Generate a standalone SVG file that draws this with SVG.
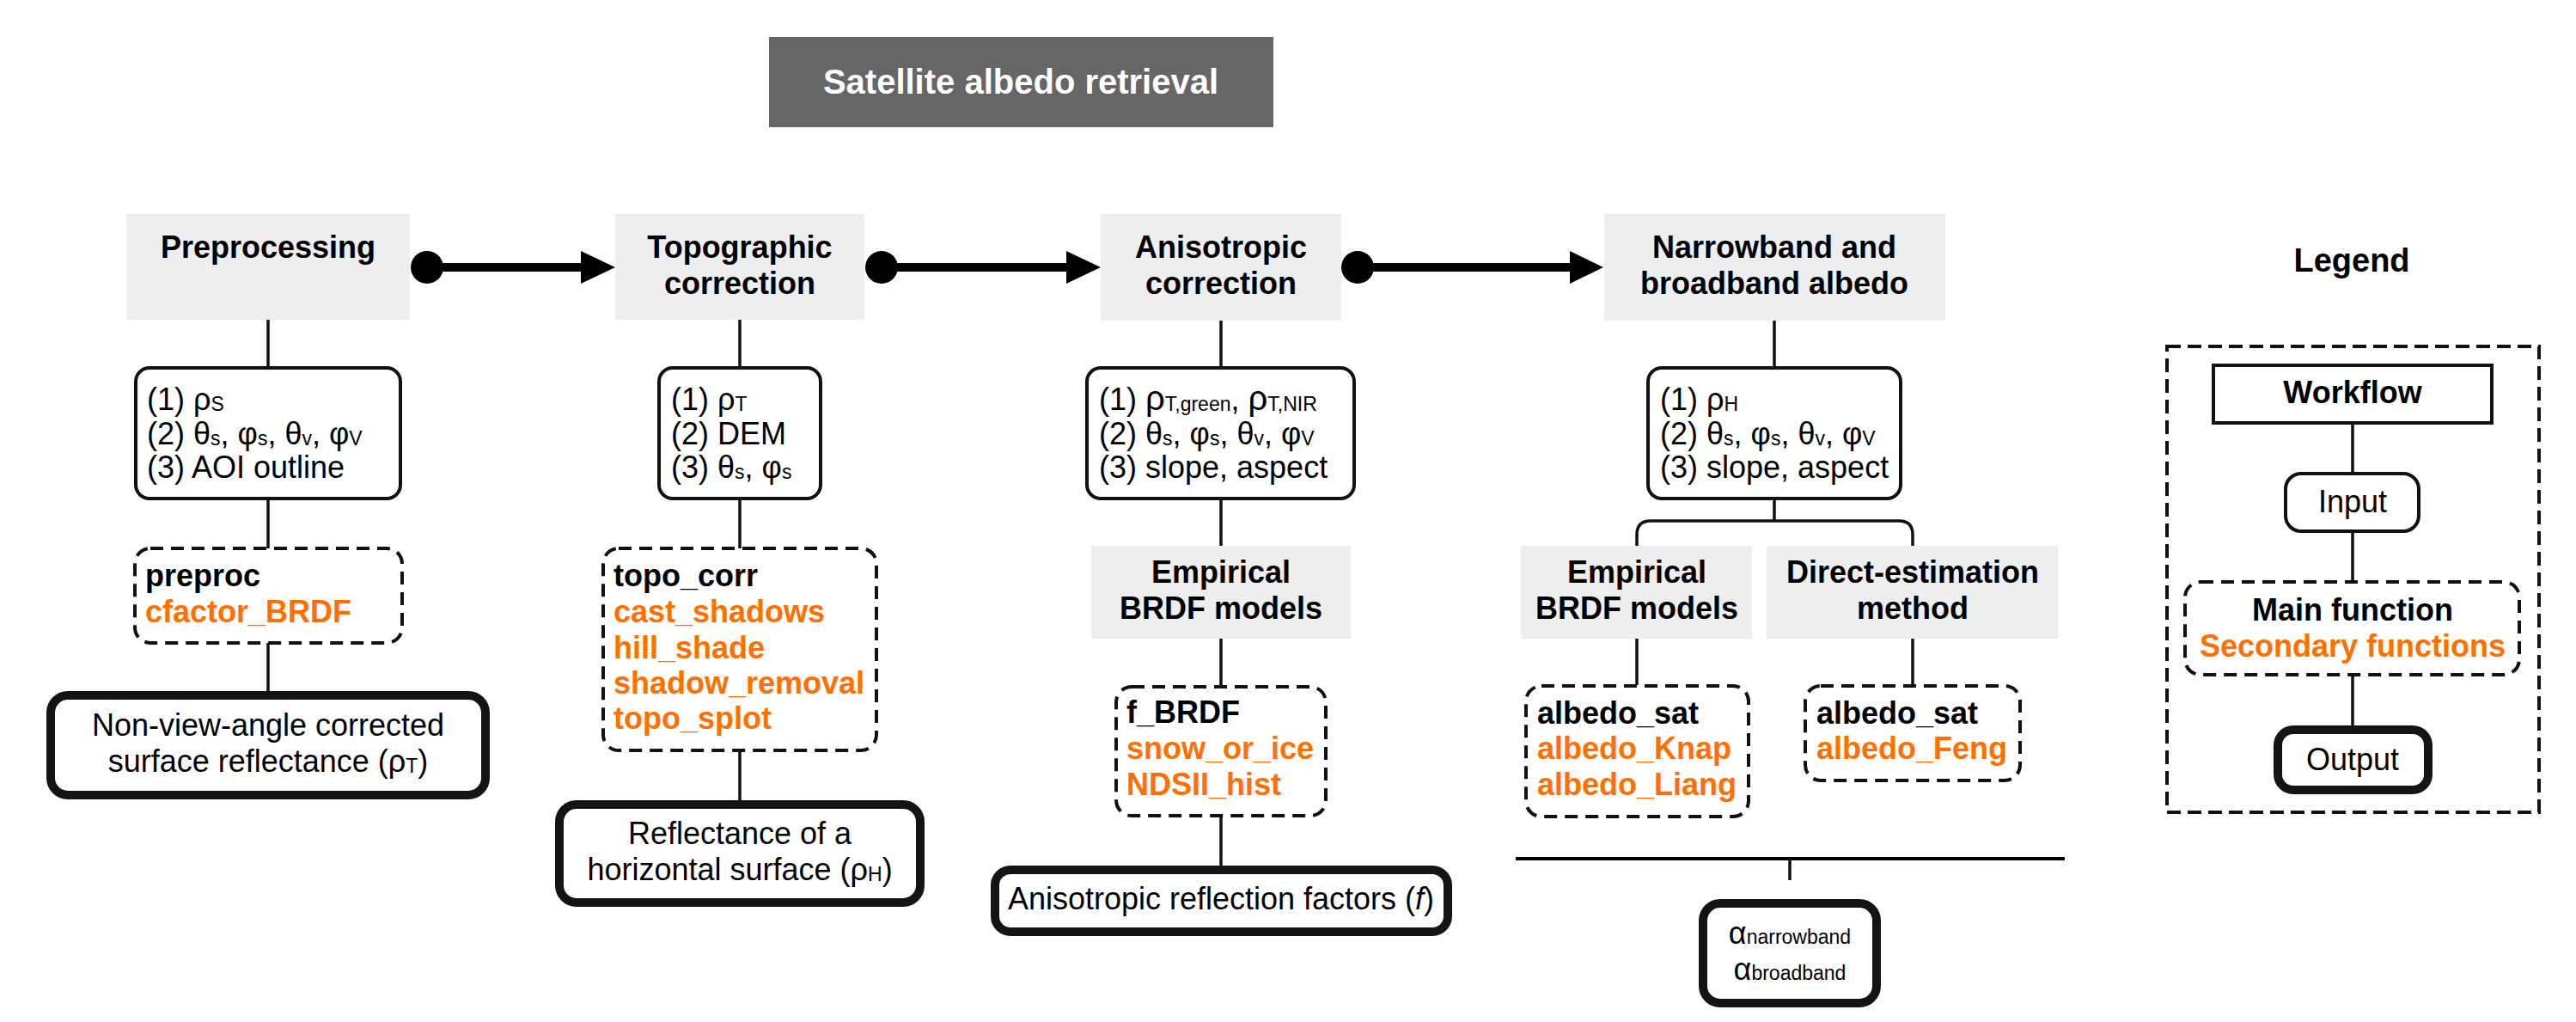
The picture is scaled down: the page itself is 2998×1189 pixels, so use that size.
<svg xmlns="http://www.w3.org/2000/svg" width="2998" height="1189" viewBox="0 0 2998 1189">
<style>
text{font-family:"Liberation Sans",Arial,Helvetica,sans-serif;fill:#000}
.hdr{fill:#eeeeee}
.ht{font-size:36px;font-weight:bold;text-anchor:middle}
.in{fill:#fff;stroke:#111;stroke-width:4}
.it{font-size:36px}
.sb{font-size:23px}
.fn{fill:#fff;stroke:#111;stroke-width:4;stroke-dasharray:15 9}
.fm{font-size:36px;font-weight:bold}
.or{fill:#ff7000}
.out{fill:#fff;stroke:#141414;stroke-width:10}
.ot{font-size:36px;text-anchor:middle}
.ln{stroke:#111;stroke-width:3.5;fill:none}
.flow{stroke:#000;stroke-width:10}
</style>
<rect width="2998" height="1189" fill="#fff"/>

<g id="connectors">
  <line class="ln" x1="312" y1="372" x2="312" y2="804"/>
  <line class="ln" x1="861" y1="372" x2="861" y2="931"/>
  <line class="ln" x1="1421" y1="373" x2="1421" y2="1007"/>
  <line class="ln" x1="2065" y1="373" x2="2065" y2="606"/>
  <path class="ln" stroke-width="4" d="M1905,635 V622 Q1905,606 1921,606 H2210 Q2226,606 2226,622 V635"/>
  <line class="ln" x1="1905" y1="743" x2="1905" y2="797"/>
  <line class="ln" x1="2226" y1="743" x2="2226" y2="797"/>
  <line x1="1764" y1="999" x2="2403" y2="999" stroke="#000" stroke-width="4"/>
  <line class="ln" x1="2083" y1="999" x2="2083" y2="1024"/>
  <line class="ln" x1="2738" y1="494" x2="2738" y2="844"/>
  <g id="flow1">
    <circle cx="497" cy="311" r="19"/>
    <line class="flow" x1="497" y1="311" x2="680" y2="311"/>
    <polygon points="676,292 716,311 676,330"/>
  </g>
  <g id="flow2">
    <circle cx="1026" cy="311" r="19"/>
    <line class="flow" x1="1026" y1="311" x2="1245" y2="311"/>
    <polygon points="1241,292 1281,311 1241,330"/>
  </g>
  <g id="flow3">
    <circle cx="1580" cy="311" r="19"/>
    <line class="flow" x1="1580" y1="311" x2="1830" y2="311"/>
    <polygon points="1827,292 1866,311 1827,330"/>
  </g>
</g>

<g id="title">
  <rect x="895" y="43" width="587" height="105" fill="#666666"/>
  <text x="1188" y="109" font-size="40" font-weight="bold" text-anchor="middle" style="fill:#fff">Satellite albedo retrieval</text>
</g>

<!-- Column 1 -->
<g id="preprocessing">
  <rect class="hdr" x="147" y="249" width="330" height="123"/>
  <text class="ht" x="312" y="300">Preprocessing</text>
</g>
<g id="preproc-input">
  <rect class="in" x="158" y="428" width="308" height="152" rx="16"/>
  <text class="it" x="171" y="477">(1) ρ<tspan class="sb" dy="1">S</tspan></text>
  <text class="it" x="171" y="517">(2) θ<tspan class="sb" dy="1">s</tspan><tspan dy="-1">, φ</tspan><tspan class="sb" dy="1">s</tspan><tspan dy="-1">, θ</tspan><tspan class="sb" dy="1">v</tspan><tspan dy="-1">, φ</tspan><tspan class="sb" dy="1">V</tspan></text>
  <text class="it" x="171" y="556">(3) AOI outline</text>
</g>
<g id="preproc-func">
  <rect class="fn" x="157" y="638" width="311" height="110" rx="18"/>
  <text class="fm" x="169" y="682">preproc</text>
  <text class="fm or" x="169" y="724">cfactor_BRDF</text>
</g>
<g id="preproc-output">
  <rect class="out" x="59" y="809" width="506" height="116" rx="20"/>
  <text class="ot" x="312" y="856">Non-view-angle corrected</text>
  <text class="ot" x="312" y="898">surface reflectance (ρ<tspan class="sb" dy="1">T</tspan><tspan dy="-1">)</tspan></text>
</g>

<!-- Column 2 -->
<g id="topographic">
  <rect class="hdr" x="716" y="249" width="290" height="123"/>
  <text class="ht" x="861" y="300">Topographic</text>
  <text class="ht" x="861" y="342">correction</text>
</g>
<g id="topo-input">
  <rect class="in" x="767" y="428" width="188" height="152" rx="16"/>
  <text class="it" x="781" y="477">(1) ρ<tspan class="sb" dy="1">T</tspan></text>
  <text class="it" x="781" y="517">(2) DEM</text>
  <text class="it" x="781" y="556">(3) θ<tspan class="sb" dy="1">s</tspan><tspan dy="-1">, φ</tspan><tspan class="sb" dy="1">s</tspan></text>
</g>
<g id="topo-func">
  <rect class="fn" x="702" y="638" width="318" height="235" rx="18"/>
  <text class="fm" x="714" y="682">topo_corr</text>
  <text class="fm or" x="714" y="724">cast_shadows</text>
  <text class="fm or" x="714" y="766">hill_shade</text>
  <text class="fm or" x="714" y="807">shadow_removal</text>
  <text class="fm or" x="714" y="848">topo_splot</text>
</g>
<g id="topo-output">
  <rect class="out" x="651" y="936" width="420" height="114" rx="20"/>
  <text class="ot" x="861" y="982">Reflectance of a</text>
  <text class="ot" x="861" y="1024">horizontal surface (ρ<tspan class="sb" dy="1">H</tspan><tspan dy="-1">)</tspan></text>
</g>

<!-- Column 3 -->
<g id="anisotropic">
  <rect class="hdr" x="1281" y="249" width="280" height="124"/>
  <text class="ht" x="1421" y="300">Anisotropic</text>
  <text class="ht" x="1421" y="342">correction</text>
</g>
<g id="aniso-input">
  <rect class="in" x="1265" y="428" width="311" height="152" rx="16"/>
  <text class="it" x="1279" y="477">(1) <tspan font-size="40">ρ</tspan><tspan class="sb" dy="1">T,green</tspan><tspan dy="-1">, </tspan><tspan font-size="40">ρ</tspan><tspan class="sb" dy="1">T,NIR</tspan></text>
  <text class="it" x="1279" y="517">(2) θ<tspan class="sb" dy="1">s</tspan><tspan dy="-1">, φ</tspan><tspan class="sb" dy="1">s</tspan><tspan dy="-1">, θ</tspan><tspan class="sb" dy="1">v</tspan><tspan dy="-1">, φ</tspan><tspan class="sb" dy="1">V</tspan></text>
  <text class="it" x="1279" y="556">(3) slope, aspect</text>
</g>
<g id="aniso-method">
  <rect class="hdr" x="1270" y="635" width="302" height="108"/>
  <text class="ht" x="1421" y="678">Empirical</text>
  <text class="ht" x="1421" y="720">BRDF models</text>
</g>
<g id="aniso-func">
  <rect class="fn" x="1299" y="799" width="244" height="150" rx="18"/>
  <text class="fm" x="1311" y="841">f_BRDF</text>
  <text class="fm or" x="1311" y="883">snow_or_ice</text>
  <text class="fm or" x="1311" y="925">NDSII_hist</text>
</g>
<g id="aniso-output">
  <rect class="out" x="1158" y="1012" width="527" height="72" rx="18"/>
  <text class="ot" x="1421" y="1058">Anisotropic reflection factors (<tspan font-style="italic">f</tspan>)</text>
</g>

<!-- Column 4 -->
<g id="albedo">
  <rect class="hdr" x="1867" y="249" width="397" height="124"/>
  <text class="ht" x="2065" y="300">Narrowband and</text>
  <text class="ht" x="2065" y="342">broadband albedo</text>
</g>
<g id="albedo-input">
  <rect class="in" x="1918" y="428" width="294" height="152" rx="16"/>
  <text class="it" x="1932" y="477">(1) ρ<tspan class="sb" dy="1">H</tspan></text>
  <text class="it" x="1932" y="517">(2) θ<tspan class="sb" dy="1">s</tspan><tspan dy="-1">, φ</tspan><tspan class="sb" dy="1">s</tspan><tspan dy="-1">, θ</tspan><tspan class="sb" dy="1">v</tspan><tspan dy="-1">, φ</tspan><tspan class="sb" dy="1">V</tspan></text>
  <text class="it" x="1932" y="556">(3) slope, aspect</text>
</g>
<g id="albedo-empirical">
  <rect class="hdr" x="1770" y="635" width="269" height="108"/>
  <text class="ht" x="1905" y="678">Empirical</text>
  <text class="ht" x="1905" y="720">BRDF models</text>
</g>
<g id="albedo-direct">
  <rect class="hdr" x="2056" y="635" width="339" height="108"/>
  <text class="ht" x="2226" y="678">Direct-estimation</text>
  <text class="ht" x="2226" y="720">method</text>
</g>
<g id="albedo-func-empirical">
  <rect class="fn" x="1776" y="798" width="259" height="152" rx="18"/>
  <text class="fm" x="1789" y="842">albedo_sat</text>
  <text class="fm or" x="1789" y="883">albedo_Knap</text>
  <text class="fm or" x="1789" y="925">albedo_Liang</text>
</g>
<g id="albedo-func-direct">
  <rect class="fn" x="2101" y="798" width="250" height="110" rx="18"/>
  <text class="fm" x="2114" y="842">albedo_sat</text>
  <text class="fm or" x="2114" y="883">albedo_Feng</text>
</g>
<g id="albedo-output">
  <rect class="out" x="1982" y="1051" width="202" height="116" rx="20"/>
  <text class="ot" x="2083" y="1098"><tspan font-size="36">α</tspan><tspan font-size="23">narrowband</tspan></text>
  <text class="ot" x="2083" y="1140"><tspan font-size="36">α</tspan><tspan font-size="23">broadband</tspan></text>
</g>

<!-- Legend -->
<g id="legend">
  <text x="2737" y="316" font-size="38" font-weight="bold" text-anchor="middle">Legend</text>
  <rect x="2522" y="403" width="433" height="542" fill="none" stroke="#111" stroke-width="4" stroke-dasharray="16 8"/>
</g>
<g id="legend-workflow">
  <rect x="2576" y="425" width="324" height="67" fill="#fff" stroke="#111" stroke-width="4"/>
  <text class="ht" x="2738" y="469">Workflow</text>
</g>
<g id="legend-input">
  <rect class="in" x="2660" y="551" width="155" height="67" rx="18"/>
  <text class="ot" x="2738" y="596">Input</text>
</g>
<g id="legend-func">
  <rect class="fn" x="2543" y="677" width="389" height="108" rx="18"/>
  <text class="ht" x="2738" y="722">Main function</text>
  <text class="ht or" x="2738" y="764">Secondary functions</text>
</g>
<g id="legend-output">
  <rect class="out" x="2651" y="849" width="175" height="70" rx="18"/>
  <text class="ot" x="2738" y="896">Output</text>
</g>
</svg>
